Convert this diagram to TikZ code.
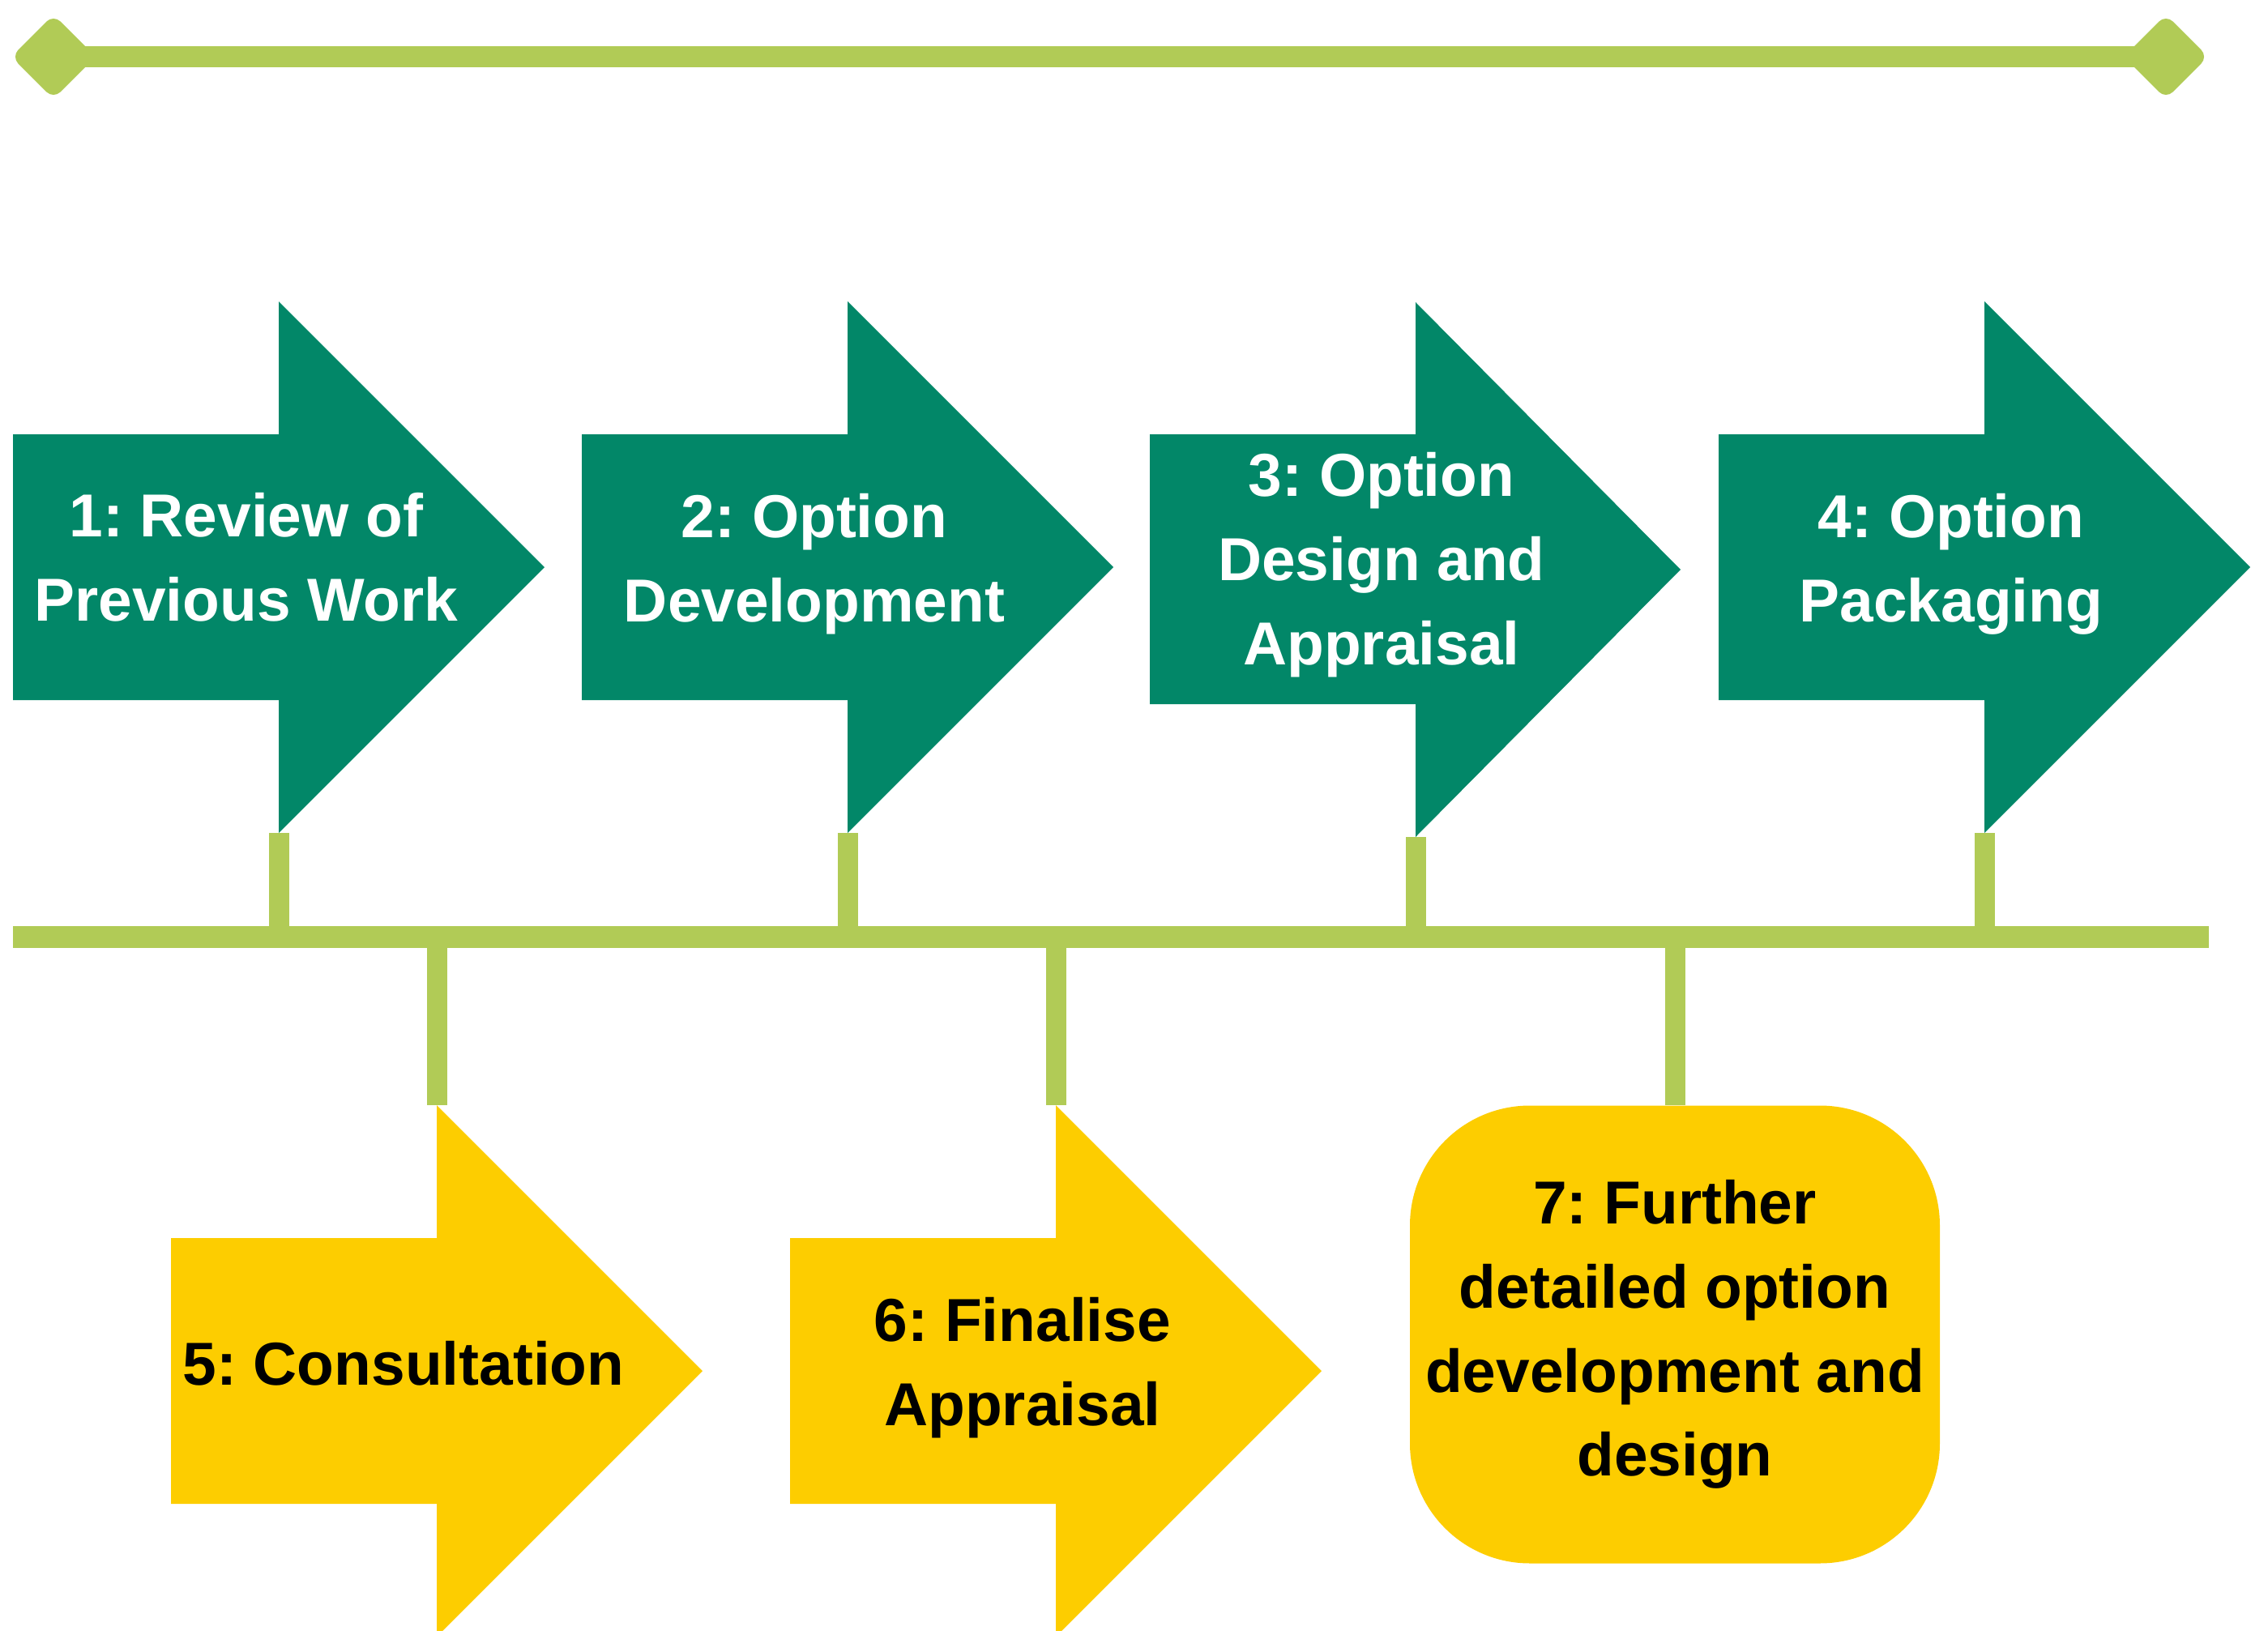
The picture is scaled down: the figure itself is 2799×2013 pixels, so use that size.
\documentclass[tikz,border=0pt]{standalone}
\usepackage{fontspec}
\setmainfont{Liberation Sans}
\usepackage{tikz}
\frenchspacing
\definecolor{stepgreen}{RGB}{2,135,104}
\definecolor{linegreen}{RGB}{177,203,86}
\definecolor{stepyellow}{RGB}{253,205,0}

\begin{document}
\begin{tikzpicture}[x=0.1mm,y=-0.1mm,
  steplabel/.style={align=center,inner sep=0pt,font=\bfseries\fontsize{21.3}{29.5}\selectfont},
  stub/.style={linegreen,line width=2.5mm},
  bar/.style={linegreen,line width=2.7mm}]
  \useasboundingbox (0,0) rectangle (2799,2013);

  %coordinates
  \coordinate (L) at (66,70);
  \coordinate (R) at (2673,70);
  \coordinate (W) at (16,1156);
  \coordinate (E) at (2726,1156);
  \coordinate (S1) at (344,1028);
  \coordinate (S2) at (1046,1028);
  \coordinate (S3) at (1747,1033);
  \coordinate (S4) at (2449,1028);
  \coordinate (S5) at (539,1364);
  \coordinate (S6) at (1303,1364);
  \coordinate (T1) at (344,1156);
  \coordinate (T2) at (1046,1156);
  \coordinate (T3) at (1747,1156);
  \coordinate (T4) at (2449,1156);
  \coordinate (T5) at (539,1156);
  \coordinate (T6) at (1303,1156);
  \coordinate (T7) at (2067,1156);

  %top bar
  \draw[linegreen,line width=2.6mm] (L) -- (R);
  \fill[linegreen,rounded corners=1.2mm] (66,18) -- (118,70) -- (66,122) -- (14,70) -- cycle;
  \fill[linegreen,rounded corners=1.2mm] (2673,18) -- (2725,70) -- (2673,122) -- (2621,70) -- cycle;

  %green arrows
  \fill[stepgreen] (16,536) -- ++(328,0) -- ++(0,-164) -- ++(328,328) -- ++(-328,328) -- ++(0,-164) -- ++(-328,0) -- cycle;
  \fill[stepgreen] (718,536) -- ++(328,0) -- ++(0,-164) -- ++(328,328) -- ++(-328,328) -- ++(0,-164) -- ++(-328,0) -- cycle;
  \fill[stepgreen] (1419,536) -- (1747,536) -- (1747,373) -- (2074,703) -- (1747,1033) -- (1747,869) -- (1419,869) -- cycle;
  \fill[stepgreen] (2121,536) -- ++(328,0) -- ++(0,-164) -- ++(328,328) -- ++(-328,328) -- ++(0,-164) -- ++(-328,0) -- cycle;

  %yellow arrows
  \fill[stepyellow] (211,1528) -- ++(328,0) -- ++(0,-164) -- ++(328,328) -- ++(-328,328) -- ++(0,-164) -- ++(-328,0) -- cycle;
  \fill[stepyellow] (975,1528) -- ++(328,0) -- ++(0,-164) -- ++(328,328) -- ++(-328,328) -- ++(0,-164) -- ++(-328,0) -- cycle;

  %box
  \node[steplabel,fill=stepyellow,rounded corners=14.8mm,minimum width=65.4mm,minimum height=56.5mm] (step7) at (2067,1647) {7: Further\\detailed option\\development and\\design};

  %labels
  \node[steplabel,text=white] (step1) at (304,688) {1: Review of\\Previous Work};
  \node[steplabel,text=white] (step2) at (1005,696) {2: Option\\Development};
  \node[steplabel,text=white] (step3) at (1705,697) {3: Option\\Design and\\Appraisal};
  \node[steplabel,text=white] (step4) at (2408,696) {4: Option\\Packaging};
  \node[steplabel] (step5) at (498,1683) {5: Consultation};
  \node[steplabel] (step6) at (1262,1688) {6: Finalise\\Appraisal};

  %timeline and stubs
  \draw[bar] (W) -- (E);
  \draw[stub] (S1) -- (T1);
  \draw[stub] (S2) -- (T2);
  \draw[stub] (S3) -- (T3);
  \draw[stub] (S4) -- (T4);
  \draw[stub] (T5) -- (S5);
  \draw[stub] (T6) -- (S6);
  \draw[stub] (T7) -- (step7.north);
\end{tikzpicture}
\end{document}
